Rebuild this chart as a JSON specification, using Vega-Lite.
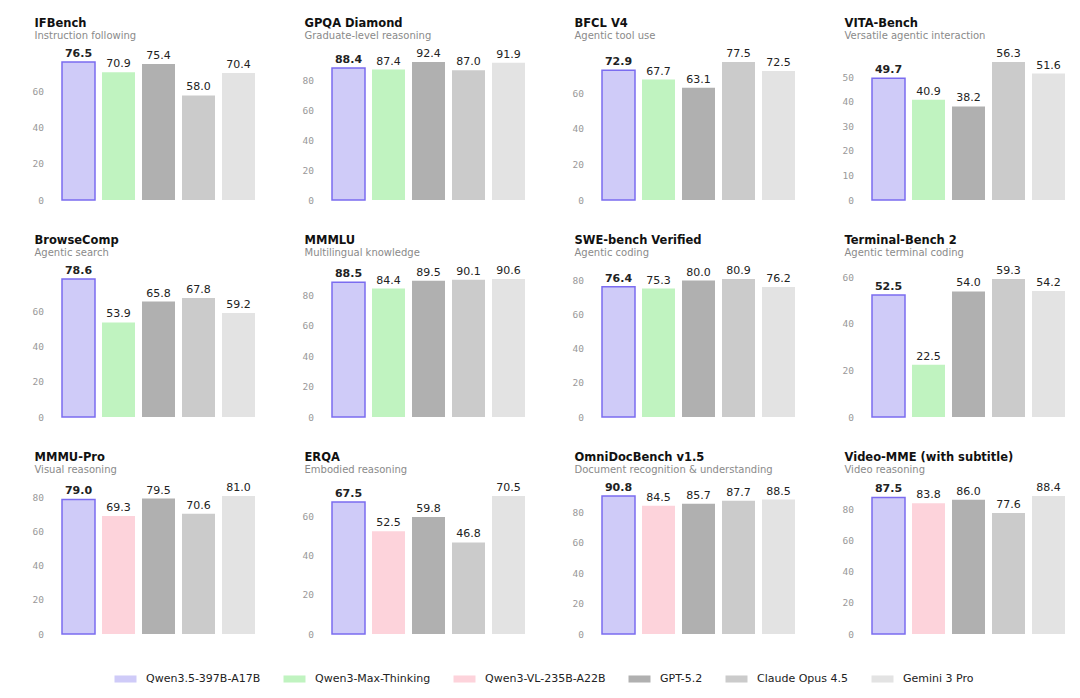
{
  "$schema": "https://vega.github.io/schema/vega-lite/v6.json",
  "background": "white",
  "padding": {"left": 28.5, "top": 17, "right": 5, "bottom": 0},
  "datasets": {
    "scores": [
      {"b": "IFBench", "m": "Qwen3.5-397B-A17B", "v": 76.5},
      {"b": "IFBench", "m": "Qwen3-Max-Thinking", "v": 70.9},
      {"b": "IFBench", "m": "GPT-5.2", "v": 75.4},
      {"b": "IFBench", "m": "Claude Opus 4.5", "v": 58.0},
      {"b": "IFBench", "m": "Gemini 3 Pro", "v": 70.4},
      {"b": "GPQA Diamond", "m": "Qwen3.5-397B-A17B", "v": 88.4},
      {"b": "GPQA Diamond", "m": "Qwen3-Max-Thinking", "v": 87.4},
      {"b": "GPQA Diamond", "m": "GPT-5.2", "v": 92.4},
      {"b": "GPQA Diamond", "m": "Claude Opus 4.5", "v": 87.0},
      {"b": "GPQA Diamond", "m": "Gemini 3 Pro", "v": 91.9},
      {"b": "BFCL V4", "m": "Qwen3.5-397B-A17B", "v": 72.9},
      {"b": "BFCL V4", "m": "Qwen3-Max-Thinking", "v": 67.7},
      {"b": "BFCL V4", "m": "GPT-5.2", "v": 63.1},
      {"b": "BFCL V4", "m": "Claude Opus 4.5", "v": 77.5},
      {"b": "BFCL V4", "m": "Gemini 3 Pro", "v": 72.5},
      {"b": "VITA-Bench", "m": "Qwen3.5-397B-A17B", "v": 49.7},
      {"b": "VITA-Bench", "m": "Qwen3-Max-Thinking", "v": 40.9},
      {"b": "VITA-Bench", "m": "GPT-5.2", "v": 38.2},
      {"b": "VITA-Bench", "m": "Claude Opus 4.5", "v": 56.3},
      {"b": "VITA-Bench", "m": "Gemini 3 Pro", "v": 51.6},
      {"b": "BrowseComp", "m": "Qwen3.5-397B-A17B", "v": 78.6},
      {"b": "BrowseComp", "m": "Qwen3-Max-Thinking", "v": 53.9},
      {"b": "BrowseComp", "m": "GPT-5.2", "v": 65.8},
      {"b": "BrowseComp", "m": "Claude Opus 4.5", "v": 67.8},
      {"b": "BrowseComp", "m": "Gemini 3 Pro", "v": 59.2},
      {"b": "MMMLU", "m": "Qwen3.5-397B-A17B", "v": 88.5},
      {"b": "MMMLU", "m": "Qwen3-Max-Thinking", "v": 84.4},
      {"b": "MMMLU", "m": "GPT-5.2", "v": 89.5},
      {"b": "MMMLU", "m": "Claude Opus 4.5", "v": 90.1},
      {"b": "MMMLU", "m": "Gemini 3 Pro", "v": 90.6},
      {"b": "SWE-bench Verified", "m": "Qwen3.5-397B-A17B", "v": 76.4},
      {"b": "SWE-bench Verified", "m": "Qwen3-Max-Thinking", "v": 75.3},
      {"b": "SWE-bench Verified", "m": "GPT-5.2", "v": 80.0},
      {"b": "SWE-bench Verified", "m": "Claude Opus 4.5", "v": 80.9},
      {"b": "SWE-bench Verified", "m": "Gemini 3 Pro", "v": 76.2},
      {"b": "Terminal-Bench 2", "m": "Qwen3.5-397B-A17B", "v": 52.5},
      {"b": "Terminal-Bench 2", "m": "Qwen3-Max-Thinking", "v": 22.5},
      {"b": "Terminal-Bench 2", "m": "GPT-5.2", "v": 54.0},
      {"b": "Terminal-Bench 2", "m": "Claude Opus 4.5", "v": 59.3},
      {"b": "Terminal-Bench 2", "m": "Gemini 3 Pro", "v": 54.2},
      {"b": "MMMU-Pro", "m": "Qwen3.5-397B-A17B", "v": 79.0},
      {"b": "MMMU-Pro", "m": "Qwen3-VL-235B-A22B", "v": 69.3},
      {"b": "MMMU-Pro", "m": "GPT-5.2", "v": 79.5},
      {"b": "MMMU-Pro", "m": "Claude Opus 4.5", "v": 70.6},
      {"b": "MMMU-Pro", "m": "Gemini 3 Pro", "v": 81.0},
      {"b": "ERQA", "m": "Qwen3.5-397B-A17B", "v": 67.5},
      {"b": "ERQA", "m": "Qwen3-VL-235B-A22B", "v": 52.5},
      {"b": "ERQA", "m": "GPT-5.2", "v": 59.8},
      {"b": "ERQA", "m": "Claude Opus 4.5", "v": 46.8},
      {"b": "ERQA", "m": "Gemini 3 Pro", "v": 70.5},
      {"b": "OmniDocBench v1.5", "m": "Qwen3.5-397B-A17B", "v": 90.8},
      {"b": "OmniDocBench v1.5", "m": "Qwen3-VL-235B-A22B", "v": 84.5},
      {"b": "OmniDocBench v1.5", "m": "GPT-5.2", "v": 85.7},
      {"b": "OmniDocBench v1.5", "m": "Claude Opus 4.5", "v": 87.7},
      {"b": "OmniDocBench v1.5", "m": "Gemini 3 Pro", "v": 88.5},
      {"b": "Video-MME (with subtitle)", "m": "Qwen3.5-397B-A17B", "v": 87.5},
      {"b": "Video-MME (with subtitle)", "m": "Qwen3-VL-235B-A22B", "v": 83.8},
      {"b": "Video-MME (with subtitle)", "m": "GPT-5.2", "v": 86.0},
      {"b": "Video-MME (with subtitle)", "m": "Claude Opus 4.5", "v": 77.6},
      {"b": "Video-MME (with subtitle)", "m": "Gemini 3 Pro", "v": 88.4}
    ]
  },
  "data": {"name": "scores"},
  "columns": 4,
  "spacing": {"row": 29, "column": 40},
  "resolve": {"scale": {"x": "independent", "y": "independent", "color": "shared"}},
  "concat": [
    {"title": {"text": "IFBench", "subtitle": "Instruction following"},
     "transform": [{"filter": "datum.b === 'IFBench'"}],
     "encoding": {"x": {"field": "m", "type": "nominal", "sort": ["Qwen3.5-397B-A17B","Qwen3-Max-Thinking","Qwen3-VL-235B-A22B","GPT-5.2","Claude Opus 4.5","Gemini 3 Pro"], "axis": null},
                  "y": {"field": "v", "type": "quantitative", "scale": {"domain": [0, 77.65], "nice": false}, "axis": {"values": [0, 20, 40, 60]}}},
     "layer": [
       {"mark": {"type": "bar", "stroke": "#7b6cf0"}, "encoding": {"color": {"field": "m", "type": "nominal", "scale": {"domain": ["Qwen3.5-397B-A17B","Qwen3-Max-Thinking","Qwen3-VL-235B-A22B","GPT-5.2","Claude Opus 4.5","Gemini 3 Pro"], "range": ["#cfcbf8","#c0f3c0","#fdd3db","#b0b0b0","#cbcbcb","#e3e3e3"]}, "legend": {"title": null, "orient": "none", "direction": "horizontal", "columns": 6, "legendX": 56, "legendY": 608}}, "strokeWidth": {"condition": {"test": "datum.m === 'Qwen3.5-397B-A17B'", "value": 1.5}, "value": 0}}},
       {"mark": {"type": "text", "baseline": "alphabetic", "dy": -5, "fontWeight": {"expr": "datum.m === 'Qwen3.5-397B-A17B' ? 'bold' : 'normal'"}}, "encoding": {"text": {"field": "v", "type": "quantitative", "format": ".1f"}}}
     ]},
    {"title": {"text": "GPQA Diamond", "subtitle": "Graduate-level reasoning"},
     "transform": [{"filter": "datum.b === 'GPQA Diamond'"}],
     "encoding": {"x": {"field": "m", "type": "nominal", "sort": ["Qwen3.5-397B-A17B","Qwen3-Max-Thinking","Qwen3-VL-235B-A22B","GPT-5.2","Claude Opus 4.5","Gemini 3 Pro"], "axis": null},
                  "y": {"field": "v", "type": "quantitative", "scale": {"domain": [0, 93.8], "nice": false}, "axis": {"values": [0, 20, 40, 60, 80]}}},
     "layer": [
       {"mark": {"type": "bar", "stroke": "#7b6cf0"}, "encoding": {"color": {"field": "m", "type": "nominal", "scale": {"domain": ["Qwen3.5-397B-A17B","Qwen3-Max-Thinking","Qwen3-VL-235B-A22B","GPT-5.2","Claude Opus 4.5","Gemini 3 Pro"], "range": ["#cfcbf8","#c0f3c0","#fdd3db","#b0b0b0","#cbcbcb","#e3e3e3"]}, "legend": {"title": null, "orient": "none", "direction": "horizontal", "columns": 6, "legendX": 56, "legendY": 608}}, "strokeWidth": {"condition": {"test": "datum.m === 'Qwen3.5-397B-A17B'", "value": 1.5}, "value": 0}}},
       {"mark": {"type": "text", "baseline": "alphabetic", "dy": -5, "fontWeight": {"expr": "datum.m === 'Qwen3.5-397B-A17B' ? 'bold' : 'normal'"}}, "encoding": {"text": {"field": "v", "type": "quantitative", "format": ".1f"}}}
     ]},
    {"title": {"text": "BFCL V4", "subtitle": "Agentic tool use"},
     "transform": [{"filter": "datum.b === 'BFCL V4'"}],
     "encoding": {"x": {"field": "m", "type": "nominal", "sort": ["Qwen3.5-397B-A17B","Qwen3-Max-Thinking","Qwen3-VL-235B-A22B","GPT-5.2","Claude Opus 4.5","Gemini 3 Pro"], "axis": null},
                  "y": {"field": "v", "type": "quantitative", "scale": {"domain": [0, 78.66], "nice": false}, "axis": {"values": [0, 20, 40, 60]}}},
     "layer": [
       {"mark": {"type": "bar", "stroke": "#7b6cf0"}, "encoding": {"color": {"field": "m", "type": "nominal", "scale": {"domain": ["Qwen3.5-397B-A17B","Qwen3-Max-Thinking","Qwen3-VL-235B-A22B","GPT-5.2","Claude Opus 4.5","Gemini 3 Pro"], "range": ["#cfcbf8","#c0f3c0","#fdd3db","#b0b0b0","#cbcbcb","#e3e3e3"]}, "legend": {"title": null, "orient": "none", "direction": "horizontal", "columns": 6, "legendX": 56, "legendY": 608}}, "strokeWidth": {"condition": {"test": "datum.m === 'Qwen3.5-397B-A17B'", "value": 1.5}, "value": 0}}},
       {"mark": {"type": "text", "baseline": "alphabetic", "dy": -5, "fontWeight": {"expr": "datum.m === 'Qwen3.5-397B-A17B' ? 'bold' : 'normal'"}}, "encoding": {"text": {"field": "v", "type": "quantitative", "format": ".1f"}}}
     ]},
    {"title": {"text": "VITA-Bench", "subtitle": "Versatile agentic interaction"},
     "transform": [{"filter": "datum.b === 'VITA-Bench'"}],
     "encoding": {"x": {"field": "m", "type": "nominal", "sort": ["Qwen3.5-397B-A17B","Qwen3-Max-Thinking","Qwen3-VL-235B-A22B","GPT-5.2","Claude Opus 4.5","Gemini 3 Pro"], "axis": null},
                  "y": {"field": "v", "type": "quantitative", "scale": {"domain": [0, 57.14], "nice": false}, "axis": {"values": [0, 10, 20, 30, 40, 50]}}},
     "layer": [
       {"mark": {"type": "bar", "stroke": "#7b6cf0"}, "encoding": {"color": {"field": "m", "type": "nominal", "scale": {"domain": ["Qwen3.5-397B-A17B","Qwen3-Max-Thinking","Qwen3-VL-235B-A22B","GPT-5.2","Claude Opus 4.5","Gemini 3 Pro"], "range": ["#cfcbf8","#c0f3c0","#fdd3db","#b0b0b0","#cbcbcb","#e3e3e3"]}, "legend": {"title": null, "orient": "none", "direction": "horizontal", "columns": 6, "legendX": 56, "legendY": 608}}, "strokeWidth": {"condition": {"test": "datum.m === 'Qwen3.5-397B-A17B'", "value": 1.5}, "value": 0}}},
       {"mark": {"type": "text", "baseline": "alphabetic", "dy": -5, "fontWeight": {"expr": "datum.m === 'Qwen3.5-397B-A17B' ? 'bold' : 'normal'"}}, "encoding": {"text": {"field": "v", "type": "quantitative", "format": ".1f"}}}
     ]},
    {"title": {"text": "BrowseComp", "subtitle": "Agentic search"},
     "transform": [{"filter": "datum.b === 'BrowseComp'"}],
     "encoding": {"x": {"field": "m", "type": "nominal", "sort": ["Qwen3.5-397B-A17B","Qwen3-Max-Thinking","Qwen3-VL-235B-A22B","GPT-5.2","Claude Opus 4.5","Gemini 3 Pro"], "axis": null},
                  "y": {"field": "v", "type": "quantitative", "scale": {"domain": [0, 79.78], "nice": false}, "axis": {"values": [0, 20, 40, 60]}}},
     "layer": [
       {"mark": {"type": "bar", "stroke": "#7b6cf0"}, "encoding": {"color": {"field": "m", "type": "nominal", "scale": {"domain": ["Qwen3.5-397B-A17B","Qwen3-Max-Thinking","Qwen3-VL-235B-A22B","GPT-5.2","Claude Opus 4.5","Gemini 3 Pro"], "range": ["#cfcbf8","#c0f3c0","#fdd3db","#b0b0b0","#cbcbcb","#e3e3e3"]}, "legend": {"title": null, "orient": "none", "direction": "horizontal", "columns": 6, "legendX": 56, "legendY": 608}}, "strokeWidth": {"condition": {"test": "datum.m === 'Qwen3.5-397B-A17B'", "value": 1.5}, "value": 0}}},
       {"mark": {"type": "text", "baseline": "alphabetic", "dy": -5, "fontWeight": {"expr": "datum.m === 'Qwen3.5-397B-A17B' ? 'bold' : 'normal'"}}, "encoding": {"text": {"field": "v", "type": "quantitative", "format": ".1f"}}}
     ]},
    {"title": {"text": "MMMLU", "subtitle": "Multilingual knowledge"},
     "transform": [{"filter": "datum.b === 'MMMLU'"}],
     "encoding": {"x": {"field": "m", "type": "nominal", "sort": ["Qwen3.5-397B-A17B","Qwen3-Max-Thinking","Qwen3-VL-235B-A22B","GPT-5.2","Claude Opus 4.5","Gemini 3 Pro"], "axis": null},
                  "y": {"field": "v", "type": "quantitative", "scale": {"domain": [0, 91.96], "nice": false}, "axis": {"values": [0, 20, 40, 60, 80]}}},
     "layer": [
       {"mark": {"type": "bar", "stroke": "#7b6cf0"}, "encoding": {"color": {"field": "m", "type": "nominal", "scale": {"domain": ["Qwen3.5-397B-A17B","Qwen3-Max-Thinking","Qwen3-VL-235B-A22B","GPT-5.2","Claude Opus 4.5","Gemini 3 Pro"], "range": ["#cfcbf8","#c0f3c0","#fdd3db","#b0b0b0","#cbcbcb","#e3e3e3"]}, "legend": {"title": null, "orient": "none", "direction": "horizontal", "columns": 6, "legendX": 56, "legendY": 608}}, "strokeWidth": {"condition": {"test": "datum.m === 'Qwen3.5-397B-A17B'", "value": 1.5}, "value": 0}}},
       {"mark": {"type": "text", "baseline": "alphabetic", "dy": -5, "fontWeight": {"expr": "datum.m === 'Qwen3.5-397B-A17B' ? 'bold' : 'normal'"}}, "encoding": {"text": {"field": "v", "type": "quantitative", "format": ".1f"}}}
     ]},
    {"title": {"text": "SWE-bench Verified", "subtitle": "Agentic coding"},
     "transform": [{"filter": "datum.b === 'SWE-bench Verified'"}],
     "encoding": {"x": {"field": "m", "type": "nominal", "sort": ["Qwen3.5-397B-A17B","Qwen3-Max-Thinking","Qwen3-VL-235B-A22B","GPT-5.2","Claude Opus 4.5","Gemini 3 Pro"], "axis": null},
                  "y": {"field": "v", "type": "quantitative", "scale": {"domain": [0, 82.11], "nice": false}, "axis": {"values": [0, 20, 40, 60, 80]}}},
     "layer": [
       {"mark": {"type": "bar", "stroke": "#7b6cf0"}, "encoding": {"color": {"field": "m", "type": "nominal", "scale": {"domain": ["Qwen3.5-397B-A17B","Qwen3-Max-Thinking","Qwen3-VL-235B-A22B","GPT-5.2","Claude Opus 4.5","Gemini 3 Pro"], "range": ["#cfcbf8","#c0f3c0","#fdd3db","#b0b0b0","#cbcbcb","#e3e3e3"]}, "legend": {"title": null, "orient": "none", "direction": "horizontal", "columns": 6, "legendX": 56, "legendY": 608}}, "strokeWidth": {"condition": {"test": "datum.m === 'Qwen3.5-397B-A17B'", "value": 1.5}, "value": 0}}},
       {"mark": {"type": "text", "baseline": "alphabetic", "dy": -5, "fontWeight": {"expr": "datum.m === 'Qwen3.5-397B-A17B' ? 'bold' : 'normal'"}}, "encoding": {"text": {"field": "v", "type": "quantitative", "format": ".1f"}}}
     ]},
    {"title": {"text": "Terminal-Bench 2", "subtitle": "Agentic terminal coding"},
     "transform": [{"filter": "datum.b === 'Terminal-Bench 2'"}],
     "encoding": {"x": {"field": "m", "type": "nominal", "sort": ["Qwen3.5-397B-A17B","Qwen3-Max-Thinking","Qwen3-VL-235B-A22B","GPT-5.2","Claude Opus 4.5","Gemini 3 Pro"], "axis": null},
                  "y": {"field": "v", "type": "quantitative", "scale": {"domain": [0, 60.19], "nice": false}, "axis": {"values": [0, 20, 40, 60]}}},
     "layer": [
       {"mark": {"type": "bar", "stroke": "#7b6cf0"}, "encoding": {"color": {"field": "m", "type": "nominal", "scale": {"domain": ["Qwen3.5-397B-A17B","Qwen3-Max-Thinking","Qwen3-VL-235B-A22B","GPT-5.2","Claude Opus 4.5","Gemini 3 Pro"], "range": ["#cfcbf8","#c0f3c0","#fdd3db","#b0b0b0","#cbcbcb","#e3e3e3"]}, "legend": {"title": null, "orient": "none", "direction": "horizontal", "columns": 6, "legendX": 56, "legendY": 608}}, "strokeWidth": {"condition": {"test": "datum.m === 'Qwen3.5-397B-A17B'", "value": 1.5}, "value": 0}}},
       {"mark": {"type": "text", "baseline": "alphabetic", "dy": -5, "fontWeight": {"expr": "datum.m === 'Qwen3.5-397B-A17B' ? 'bold' : 'normal'"}}, "encoding": {"text": {"field": "v", "type": "quantitative", "format": ".1f"}}}
     ]},
    {"title": {"text": "MMMU-Pro", "subtitle": "Visual reasoning"},
     "transform": [{"filter": "datum.b === 'MMMU-Pro'"}],
     "encoding": {"x": {"field": "m", "type": "nominal", "sort": ["Qwen3.5-397B-A17B","Qwen3-Max-Thinking","Qwen3-VL-235B-A22B","GPT-5.2","Claude Opus 4.5","Gemini 3 Pro"], "axis": null},
                  "y": {"field": "v", "type": "quantitative", "scale": {"domain": [0, 82.2], "nice": false}, "axis": {"values": [0, 20, 40, 60, 80]}}},
     "layer": [
       {"mark": {"type": "bar", "stroke": "#7b6cf0"}, "encoding": {"color": {"field": "m", "type": "nominal", "scale": {"domain": ["Qwen3.5-397B-A17B","Qwen3-Max-Thinking","Qwen3-VL-235B-A22B","GPT-5.2","Claude Opus 4.5","Gemini 3 Pro"], "range": ["#cfcbf8","#c0f3c0","#fdd3db","#b0b0b0","#cbcbcb","#e3e3e3"]}, "legend": {"title": null, "orient": "none", "direction": "horizontal", "columns": 6, "legendX": 56, "legendY": 608}}, "strokeWidth": {"condition": {"test": "datum.m === 'Qwen3.5-397B-A17B'", "value": 1.5}, "value": 0}}},
       {"mark": {"type": "text", "baseline": "alphabetic", "dy": -5, "fontWeight": {"expr": "datum.m === 'Qwen3.5-397B-A17B' ? 'bold' : 'normal'"}}, "encoding": {"text": {"field": "v", "type": "quantitative", "format": ".1f"}}}
     ]},
    {"title": {"text": "ERQA", "subtitle": "Embodied reasoning"},
     "transform": [{"filter": "datum.b === 'ERQA'"}],
     "encoding": {"x": {"field": "m", "type": "nominal", "sort": ["Qwen3.5-397B-A17B","Qwen3-Max-Thinking","Qwen3-VL-235B-A22B","GPT-5.2","Claude Opus 4.5","Gemini 3 Pro"], "axis": null},
                  "y": {"field": "v", "type": "quantitative", "scale": {"domain": [0, 71.56], "nice": false}, "axis": {"values": [0, 20, 40, 60]}}},
     "layer": [
       {"mark": {"type": "bar", "stroke": "#7b6cf0"}, "encoding": {"color": {"field": "m", "type": "nominal", "scale": {"domain": ["Qwen3.5-397B-A17B","Qwen3-Max-Thinking","Qwen3-VL-235B-A22B","GPT-5.2","Claude Opus 4.5","Gemini 3 Pro"], "range": ["#cfcbf8","#c0f3c0","#fdd3db","#b0b0b0","#cbcbcb","#e3e3e3"]}, "legend": {"title": null, "orient": "none", "direction": "horizontal", "columns": 6, "legendX": 56, "legendY": 608}}, "strokeWidth": {"condition": {"test": "datum.m === 'Qwen3.5-397B-A17B'", "value": 1.5}, "value": 0}}},
       {"mark": {"type": "text", "baseline": "alphabetic", "dy": -5, "fontWeight": {"expr": "datum.m === 'Qwen3.5-397B-A17B' ? 'bold' : 'normal'"}}, "encoding": {"text": {"field": "v", "type": "quantitative", "format": ".1f"}}}
     ]},
    {"title": {"text": "OmniDocBench v1.5", "subtitle": "Document recognition & understanding"},
     "transform": [{"filter": "datum.b === 'OmniDocBench v1.5'"}],
     "encoding": {"x": {"field": "m", "type": "nominal", "sort": ["Qwen3.5-397B-A17B","Qwen3-Max-Thinking","Qwen3-VL-235B-A22B","GPT-5.2","Claude Opus 4.5","Gemini 3 Pro"], "axis": null},
                  "y": {"field": "v", "type": "quantitative", "scale": {"domain": [0, 92.16], "nice": false}, "axis": {"values": [0, 20, 40, 60, 80]}}},
     "layer": [
       {"mark": {"type": "bar", "stroke": "#7b6cf0"}, "encoding": {"color": {"field": "m", "type": "nominal", "scale": {"domain": ["Qwen3.5-397B-A17B","Qwen3-Max-Thinking","Qwen3-VL-235B-A22B","GPT-5.2","Claude Opus 4.5","Gemini 3 Pro"], "range": ["#cfcbf8","#c0f3c0","#fdd3db","#b0b0b0","#cbcbcb","#e3e3e3"]}, "legend": {"title": null, "orient": "none", "direction": "horizontal", "columns": 6, "legendX": 56, "legendY": 608}}, "strokeWidth": {"condition": {"test": "datum.m === 'Qwen3.5-397B-A17B'", "value": 1.5}, "value": 0}}},
       {"mark": {"type": "text", "baseline": "alphabetic", "dy": -5, "fontWeight": {"expr": "datum.m === 'Qwen3.5-397B-A17B' ? 'bold' : 'normal'"}}, "encoding": {"text": {"field": "v", "type": "quantitative", "format": ".1f"}}}
     ]},
    {"title": {"text": "Video-MME (with subtitle)", "subtitle": "Video reasoning"},
     "transform": [{"filter": "datum.b === 'Video-MME (with subtitle)'"}],
     "encoding": {"x": {"field": "m", "type": "nominal", "sort": ["Qwen3.5-397B-A17B","Qwen3-Max-Thinking","Qwen3-VL-235B-A22B","GPT-5.2","Claude Opus 4.5","Gemini 3 Pro"], "axis": null},
                  "y": {"field": "v", "type": "quantitative", "scale": {"domain": [0, 89.73], "nice": false}, "axis": {"values": [0, 20, 40, 60, 80]}}},
     "layer": [
       {"mark": {"type": "bar", "stroke": "#7b6cf0"}, "encoding": {"color": {"field": "m", "type": "nominal", "scale": {"domain": ["Qwen3.5-397B-A17B","Qwen3-Max-Thinking","Qwen3-VL-235B-A22B","GPT-5.2","Claude Opus 4.5","Gemini 3 Pro"], "range": ["#cfcbf8","#c0f3c0","#fdd3db","#b0b0b0","#cbcbcb","#e3e3e3"]}, "legend": {"title": null, "orient": "none", "direction": "horizontal", "columns": 6, "legendX": 56, "legendY": 608}}, "strokeWidth": {"condition": {"test": "datum.m === 'Qwen3.5-397B-A17B'", "value": 1.5}, "value": 0}}},
       {"mark": {"type": "text", "baseline": "alphabetic", "dy": -5, "fontWeight": {"expr": "datum.m === 'Qwen3.5-397B-A17B' ? 'bold' : 'normal'"}}, "encoding": {"text": {"field": "v", "type": "quantitative", "format": ".1f"}}}
     ]}
  ],
  "config": {
    "font": "DejaVu Sans",
    "view": {"stroke": null, "continuousWidth": 200, "continuousHeight": 140, "discreteWidth": 200, "discreteHeight": 140},
    "scale": {"bandPaddingInner": 0.175, "barBandPaddingInner": 0.175, "bandPaddingOuter": 0.0875},
    "text": {"fontSize": 11, "color": "#222222", "font": "DejaVu Sans"},
    "title": {"anchor": "start", "frame": "group", "dx": -24, "font": "DejaVu Sans", "fontSize": 11.5, "fontWeight": "bold", "color": "#111111", "subtitleFont": "DejaVu Sans", "subtitleFontSize": 10, "subtitleColor": "#8a8a8a", "subtitlePadding": 2, "offset": 7},
    "axisY": {"domain": false, "ticks": false, "grid": false, "labelFont": "DejaVu Sans Mono", "labelFontSize": 9.5, "labelColor": "#999999", "labelPadding": 15, "minExtent": 30, "maxExtent": 30, "title": null},
    "legend": {"symbolType": "M-1,-0.32H1V0.32H-1Z", "symbolSize": 484, "symbolStrokeWidth": 0, "symbolOpacity": 1, "labelFont": "DejaVu Sans", "labelFontSize": 11, "labelColor": "#222222", "labelOffset": 9.5, "columnPadding": 23, "labelLimit": 300, "padding": 0}
  }
}
